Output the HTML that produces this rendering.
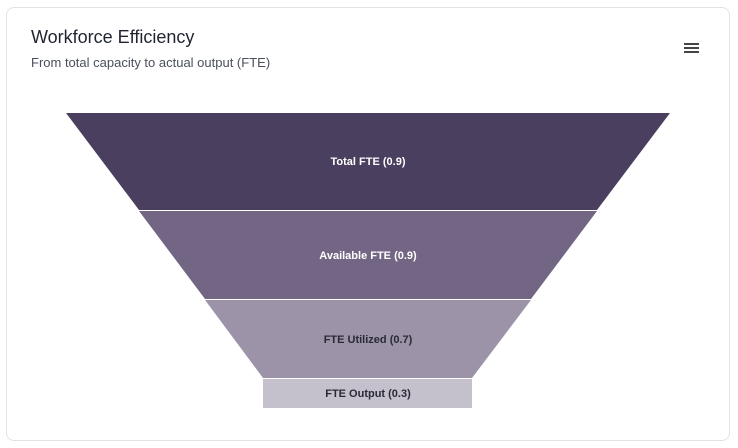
<!DOCTYPE html>
<html><head><style>
body{margin:0;width:738px;height:448px;background:#fff;font-family:"Liberation Sans",sans-serif;overflow:hidden}
.card{position:absolute;left:6px;top:7px;width:724px;height:434px;border:1px solid #e3e3e6;border-radius:8px;box-sizing:border-box}
.t{position:absolute;left:31px;top:27px;font-size:18px;color:#1f2430}
.s{position:absolute;left:31px;top:55px;font-size:13px;color:#4a4f5c}
.m{position:absolute;left:684px;width:15px;height:2px;background:#444}
</style></head><body>
<div class="card"></div>
<div class="t">Workforce Efficiency</div>
<div class="s">From total capacity to actual output (FTE)</div>
<div class="m" style="top:43px"></div><div class="m" style="top:47px"></div><div class="m" style="top:51px"></div>
<svg width="738" height="448" style="position:absolute;left:0;top:0" font-family="Liberation Sans, sans-serif" font-size="11" font-weight="bold" text-anchor="middle">
<polygon points="66,113 670,113 597,210 139,210" fill="#4a3f5f"/>
<polygon points="139,211 597,211 531,299 205,299" fill="#726684"/>
<polygon points="205,300 531,300 472,378 263,378" fill="#9c93a8"/>
<rect x="263" y="379" width="209" height="29" fill="#c4c0cc"/>
<text x="368" y="165" fill="#fff">Total FTE (0.9)</text>
<text x="368" y="259" fill="#fff">Available FTE (0.9)</text>
<text x="368" y="343" fill="#2a2a35">FTE Utilized (0.7)</text>
<text x="368" y="397" fill="#2a2a35">FTE Output (0.3)</text>
</svg>
</body></html>
